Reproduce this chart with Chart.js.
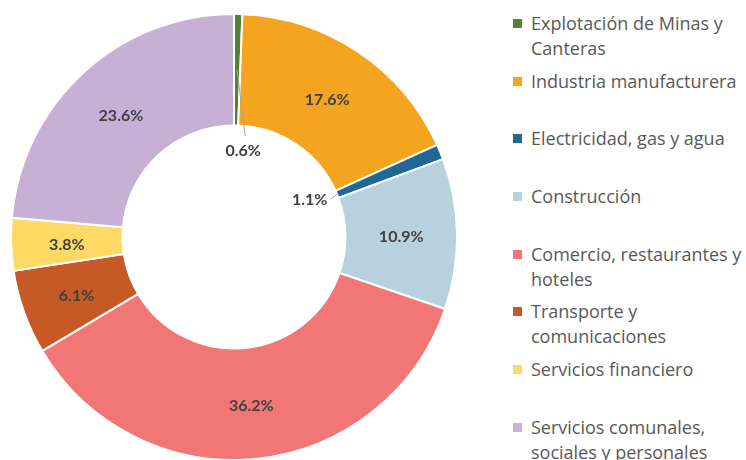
<!DOCTYPE html>
<html>
<head>
<meta charset="utf-8">
<script src="https://cdn.jsdelivr.net/npm/chart.js@4.4.1/dist/chart.umd.min.js"></script>
<style>
  html, body { margin: 0; padding: 0; background: #fff; overflow: hidden; }
  body { width: 746px; height: 460px; position: relative; }
  #wrap { position: absolute; left: 10px; top: 13px; width: 448px; height: 448px; }
  #legend { position: absolute; left: 513px; top: 11px; margin: 0; padding: 0; list-style: none;
            font-family: "Open Sans", sans-serif; font-size: 18px; color: #595959; }
  #legend li { height: 57.7px; position: relative; padding-left: 18px; line-height: 25px; white-space: nowrap; }
  #legend li span { position: absolute; left: 0; top: 8px; width: 9px; height: 9px; }
</style>
</head>
<body>
<div id="wrap"><canvas id="donutChart"></canvas></div>
<ul id="legend"></ul>
<script>
// Participación por sector (%)
const sectores = [
    ["Explotación de Minas y", "Canteras"],
    ["Industria manufacturera"],
    ["Electricidad, gas y agua"],
    ["Construcción"],
    ["Comercio, restaurantes y", "hoteles"],
    ["Transporte y", "comunicaciones"],
    ["Servicios financiero"],
    ["Servicios comunales,", "sociales y personales"],
];
const participacion = [0.6, 17.6, 1.1, 10.9, 36.2, 6.1, 3.8, 23.6];
const colores = [
    "#548235",
    "#F4A41F",
    "#1F6896",
    "#B7D1DE",
    "#F37677",
    "#C55A27",
    "#FFD966",
    "#C6B0D5",
];

// etiquetas de porcentaje; los sectores pequeños van dentro del hueco con línea guía
const etiquetasPlugin = {
    id: "etiquetas",
    afterDatasetsDraw(chart, args, opts) {
        const ctx = chart.ctx;
        const meta = chart.getDatasetMeta(0);
        ctx.save();
        ctx.font = "bold 16px Lato, sans-serif";
        ctx.fillStyle = "#404040";
        ctx.textAlign = "center";
        ctx.textBaseline = "middle";
        meta.data.forEach((arc, i) => {
            const texto = participacion[i].toFixed(1) + "%";
            const p = arc.getProps(["x", "y", "startAngle", "endAngle", "innerRadius", "outerRadius"], true);
            const mid = (p.startAngle + p.endAngle) / 2;
            const guia = opts.pequenos[i];
            if (!guia) {
                const r = (p.innerRadius + p.outerRadius) / 2;
                ctx.fillText(texto, p.x + Math.cos(mid) * r, p.y + Math.sin(mid) * r + 2);
                return;
            }
            const a = mid + guia.giro * Math.PI / 180;
            const r = p.innerRadius + guia.radio;
            const lx = p.x + Math.cos(a) * r;
            const ly = p.y + Math.sin(a) * r;
            ctx.fillText(texto, lx, ly);
            const r0 = guia.desde === "centro" ? (p.innerRadius + p.outerRadius) / 2 : p.innerRadius;
            const w = ctx.measureText(texto).width;
            let ex, ey;
            if (guia.ancla === "arriba") { ex = lx + 2; ey = ly - 15; }
            else { ex = lx + w / 2 + 3; ey = ly; }
            ctx.strokeStyle = "#A6A6A6";
            ctx.lineWidth = 1;
            ctx.beginPath();
            ctx.moveTo(p.x + Math.cos(mid) * r0, p.y + Math.sin(mid) * r0);
            ctx.lineTo(ex, ey);
            ctx.stroke();
        });
        ctx.restore();
    },
};

const donut = document.getElementById("donutChart").getContext("2d");
const donutChart = new Chart(donut, {
    type: "doughnut",
    data: {
        labels: sectores,
        datasets: [
            {
                data: participacion,
                backgroundColor: colores,
                borderColor: "#ffffff",
                borderWidth: 2,
            },
        ],
    },
    options: {
        responsive: true,
        maintainAspectRatio: false,
        animation: false,
        cutout: "50%",
        layout: { padding: 0 },
        plugins: {
            legend: { display: false },
            tooltip: { enabled: false },
            etiquetas: {
                pequenos: {
                    0: { giro: 5, radio: -25, desde: "centro", ancla: "arriba" },
                    2: { giro: -4, radio: -27, desde: "interior", ancla: "lado" },
                },
            },
        },
    },
    plugins: [etiquetasPlugin],
});

// leyenda a la derecha
const legend = document.getElementById("legend");
sectores.forEach((lineas, i) => {
    const li = document.createElement("li");
    const sq = document.createElement("span");
    sq.style.background = colores[i];
    li.appendChild(sq);
    li.appendChild(document.createTextNode(lineas[0]));
    for (let k = 1; k < lineas.length; k++) {
        li.appendChild(document.createElement("br"));
        li.appendChild(document.createTextNode(lineas[k]));
    }
    legend.appendChild(li);
});
</script>
</body>
</html>
